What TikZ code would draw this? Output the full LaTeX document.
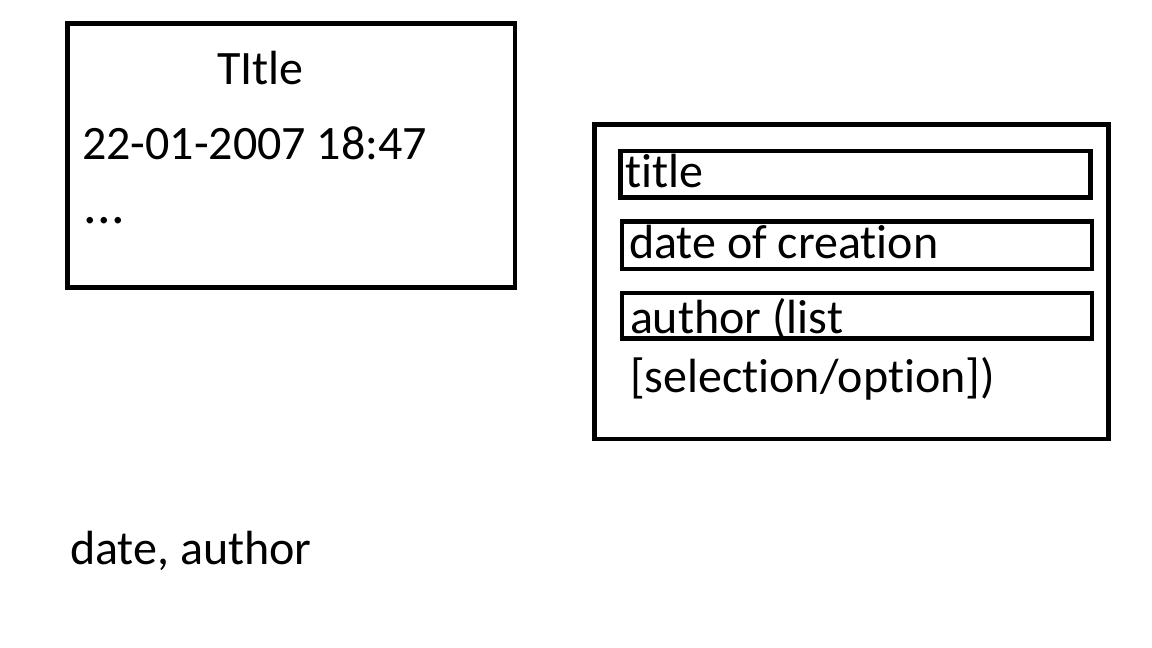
\documentclass[tikz,border=0pt]{standalone}
\usepackage{fontspec}
\setmainfont{Carlito}[Ligatures={CommonOff}]
\begin{document}
\begin{tikzpicture}[x=1pt,y=-1pt,
  frame/.style={draw=black,line width=4.6pt,rectangle,inner sep=0pt,outer sep=0pt},
  txt/.style={anchor=base west,inner sep=0pt,outer sep=0pt,font=\fontsize{48}{58}\selectfont}]
\useasboundingbox[fill=white] (0,0) rectangle (1152,648);
% left box
\node[frame,minimum width=447.5pt,minimum height=264pt] (leftbox) at (291.25,155.5) {};
\node[txt] (ltitle) at (217,84) {TItle};
\node[txt] (ldate) at (82,159) {22-01-2007 18:47};
\node[txt,font=\fontsize{54}{60}\selectfont] (ldots) at (83,223) {.\kern0.5pt.\kern0.5pt.};
% right box
\node[frame,minimum width=513.7pt,minimum height=314.5pt] (rightbox) at (851.6,281.75) {};
\node[frame,minimum width=470pt,minimum height=46.7pt] (titlebox) at (855.5,174.15) {};
\node[frame,minimum width=470pt,minimum height=47.5pt] (datebox) at (857,245.25) {};
\node[frame,minimum width=470pt,minimum height=45.5pt] (authorbox) at (857,315.75) {};
\node[txt] (ttitle) at (625,187) {title};
\node[txt] (tdate) at (629,258) {date of creation};
\node[txt] (tauthor) at (630,333) {author (list};
\node[txt] (tsel) at (630,392) {[selection/option])};
% bottom label
\node[txt] (bottom) at (70,564) {date, author};
\end{tikzpicture}
\end{document}
